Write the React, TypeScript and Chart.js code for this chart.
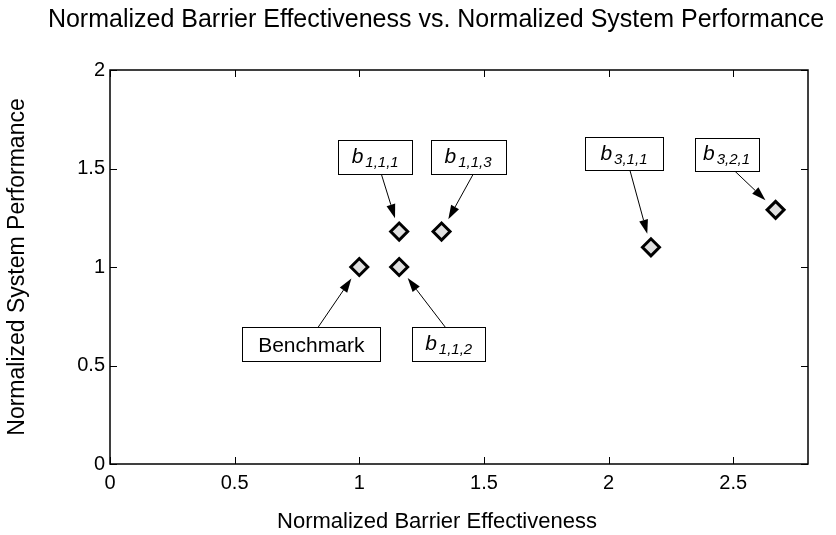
import React, { useEffect, useRef } from "react";
import { Chart, registerables } from "chart.js";

Chart.register(...registerables);

// Design points: Benchmark, b1,1,1, b1,1,2, b1,1,3, b3,1,1, b3,2,1
const effectiveness = [1.0, 1.16, 1.16, 1.33, 2.17, 2.67];
const performance = [1.0, 1.18, 1.0, 1.18, 1.1, 1.29];
const pointNames = ["Benchmark", "b", "b", "b", "b", "b"];
const pointSubscripts = ["", "1,1,1", "1,1,2", "1,1,3", "3,1,1", "3,2,1"];

const xTicks = [0, 0.5, 1, 1.5, 2, 2.5];
const yTicks = [0, 0.5, 1, 1.5, 2];
const xLimits = [0, 2.8];
const yLimits = [0, 2];

const titleText = "Normalized Barrier Effectiveness vs. Normalized System Performance";
const xTitle = "Normalized Barrier Effectiveness";
const yTitle = "Normalized System Performance";

// Callout boxes: offset of box centre from its marker, box size, and where the
// arrow leaves the box edge (relative to the box centre).
const callouts = [
  { dx: -48, dy: 77, w: 138, h: 34, tail: 7 },
  { dx: -24, dy: -75, w: 74, h: 34, tail: 6 },
  { dx: 49.5, dy: 77, w: 73, h: 34, tail: -3.5 },
  { dx: 26.5, dy: -75, w: 75, h: 34, tail: 5.5 },
  { dx: -27, dy: -93.5, w: 78, h: 33, tail: 6 },
  { dx: -49, dy: -55.5, w: 64, h: 33, tail: 8 },
];

const FONT = '"Liberation Sans", Arial, Helvetica, sans-serif';

const frame = {
  id: "frame",
  afterDatasetsDraw(chart: any) {
    const ctx = chart.ctx as CanvasRenderingContext2D;
    const xs = chart.scales.x;
    const ys = chart.scales.y;
    ctx.save();
    callouts.forEach((c, i) => {
      const px = xs.getPixelForValue(effectiveness[i]);
      const py = ys.getPixelForValue(performance[i]);
      const cx = px + c.dx;
      const cy = py + c.dy;
      const left = Math.round(cx - c.w / 2) + 0.5;
      const top = Math.round(cy - c.h / 2) + 0.5;
      // arrow
      const tx = cx + c.tail;
      const ty = c.dy > 0 ? cy - c.h / 2 : cy + c.h / 2;
      const vx = px - tx;
      const vy = py - ty;
      const len = Math.hypot(vx, vy);
      const ux = vx / len;
      const uy = vy / len;
      const gap = 14;
      const hx = px - ux * gap;
      const hy = py - uy * gap;
      const headLen = 14;
      const headW = 4.5;
      const bx = hx - ux * headLen;
      const by = hy - uy * headLen;
      ctx.strokeStyle = "#000";
      ctx.lineWidth = 1;
      ctx.beginPath();
      ctx.moveTo(tx, ty);
      ctx.lineTo(bx, by);
      ctx.stroke();
      ctx.fillStyle = "#000";
      ctx.beginPath();
      ctx.moveTo(hx, hy);
      ctx.lineTo(bx - uy * headW, by + ux * headW);
      ctx.lineTo(bx + uy * headW, by - ux * headW);
      ctx.closePath();
      ctx.fill();
      // box
      ctx.fillStyle = "#fff";
      ctx.fillRect(left, top, c.w, c.h);
      ctx.strokeRect(left, top, c.w, c.h);
      // text
      ctx.fillStyle = "#000";
      ctx.textBaseline = "alphabetic";
      ctx.textAlign = "left";
      const sub = pointSubscripts[i];
      if (sub) {
        const mainFont = `italic 21px ${FONT}`;
        const subFont = `italic 15px ${FONT}`;
        ctx.font = mainFont;
        const mw = ctx.measureText(pointNames[i]).width;
        ctx.font = subFont;
        const sw = ctx.measureText(sub).width;
        const start = cx - (mw + 2 + sw) / 2;
        const base = cy + 6;
        ctx.font = mainFont;
        ctx.fillText(pointNames[i], start, base);
        ctx.font = subFont;
        ctx.fillText(sub, start + mw + 2, base + 4);
      } else {
        ctx.font = `21px ${FONT}`;
        ctx.textAlign = "center";
        ctx.fillText(pointNames[i], cx, cy + 7.5);
      }
    });
    ctx.restore();
  },
  afterDraw(chart: any) {
    const ctx = chart.ctx as CanvasRenderingContext2D;
    const a = chart.chartArea;
    const xs = chart.scales.x;
    const ys = chart.scales.y;
    ctx.save();
    ctx.strokeStyle = "#000";
    // axes box
    ctx.lineWidth = 1.5;
    ctx.strokeRect(a.left, a.top, a.right - a.left, a.bottom - a.top);
    // inward ticks on all sides
    const tl = 7;
    ctx.lineWidth = 1;
    ctx.beginPath();
    xTicks.forEach((v) => {
      const x = Math.round(xs.getPixelForValue(v)) + 0.5;
      ctx.moveTo(x, a.bottom);
      ctx.lineTo(x, a.bottom - tl);
      ctx.moveTo(x, a.top);
      ctx.lineTo(x, a.top + tl);
    });
    yTicks.forEach((v) => {
      const y = Math.round(ys.getPixelForValue(v)) + 0.5;
      ctx.moveTo(a.left, y);
      ctx.lineTo(a.left + tl, y);
      ctx.moveTo(a.right, y);
      ctx.lineTo(a.right - tl, y);
    });
    ctx.stroke();
    // tick labels
    ctx.fillStyle = "#000";
    ctx.font = `20px ${FONT}`;
    ctx.textAlign = "center";
    ctx.textBaseline = "top";
    xTicks.forEach((v) => {
      ctx.fillText(String(v), xs.getPixelForValue(v), a.bottom + 9);
    });
    ctx.textAlign = "right";
    ctx.textBaseline = "middle";
    yTicks.forEach((v) => {
      ctx.fillText(String(v), a.left - 5, ys.getPixelForValue(v));
    });
    // titles
    ctx.textAlign = "center";
    ctx.textBaseline = "middle";
    ctx.font = `22px ${FONT}`;
    ctx.fillText(xTitle, 437, 522);
    ctx.save();
    ctx.font = `23px ${FONT}`;
    ctx.translate(18, (a.top + a.bottom) / 2);
    ctx.rotate(-Math.PI / 2);
    ctx.fillText(yTitle, 0, 0);
    ctx.restore();
    ctx.font = `25px ${FONT}`;
    ctx.fillText(titleText, 436, 20);
    ctx.restore();
  },
};

export default function App() {
  const canvasRef = useRef<HTMLCanvasElement | null>(null);

  useEffect(() => {
    const canvas = canvasRef.current;
    if (!canvas) return;
    const chart = new Chart(canvas, {
      type: "scatter",
      data: {
        datasets: [
          {
            data: effectiveness.map((x, i) => ({ x, y: performance[i] })),
            pointStyle: "rectRot",
            pointRadius: 8.5,
            pointHoverRadius: 8.5,
            pointBorderWidth: 3,
            pointBackgroundColor: "#e0e0e0",
            pointBorderColor: "#000",
          },
        ],
      },
      options: {
        animation: false,
        responsive: true,
        maintainAspectRatio: false,
        devicePixelRatio: 1,
        layout: { padding: { left: 110, right: 28, top: 70, bottom: 71 } },
        plugins: {
          legend: { display: false },
          tooltip: { enabled: false },
          title: { display: false },
        },
        scales: {
          x: { type: "linear", min: xLimits[0], max: xLimits[1], display: false },
          y: { type: "linear", min: yLimits[0], max: yLimits[1], display: false },
        },
      },
      plugins: [frame],
    });
    return () => chart.destroy();
  }, []);

  return (
    <div style={{ position: "fixed", left: 0, top: 0, width: 836, height: 535, background: "#fff" }}>
      <canvas ref={canvasRef} />
    </div>
  );
}
